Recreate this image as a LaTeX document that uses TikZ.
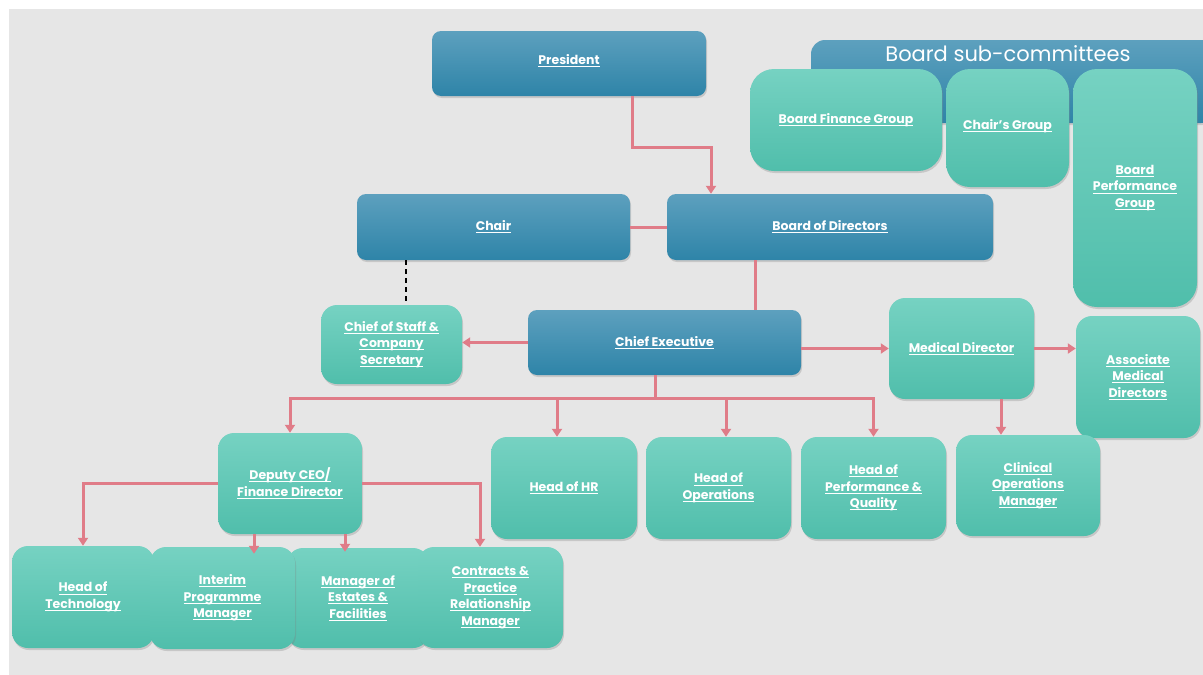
\documentclass[tikz,border=0pt]{standalone}
\usepackage{fontspec}
\setmainfont{Poppins}
\usetikzlibrary{arrows.meta,shadows}
\definecolor{bggray}{HTML}{E6E6E6}
\definecolor{bluetop}{HTML}{5DA0BE}
\definecolor{bluebot}{HTML}{2E84A8}
\definecolor{greentop}{HTML}{76D2C2}
\definecolor{greenbot}{HTML}{50BEAB}
\definecolor{linkcol}{HTML}{E07C88}
\newlength\ulw
\newcommand\myul[1]{\settowidth\ulw{#1}\rlap{\rule[-2.6pt]{\ulw}{1pt}}#1}
\begin{document}
\begin{tikzpicture}[x=1pt,y=-1pt,
  box/.style={rectangle, inner sep=2pt, text=white,
    font=\bfseries\fontsize{12.5}{16.5}\selectfont, align=center,
    drop shadow={shadow xshift=1pt,shadow yshift=-2pt,opacity=0.3}},
  bluebox/.style={box, top color=bluetop, bottom color=bluebot, rounded corners=9pt},
  greenbox/.style={box, top color=greentop, bottom color=greenbot, rounded corners=16pt},
  subbox/.style={greenbox, rounded corners=24pt},
  link/.style={draw=linkcol, line width=3pt},
  arr/.style={link, -{Triangle[width=10pt,length=8pt]}},
  dashlink/.style={draw=black, line width=1.2pt, dash pattern=on 5pt off 4pt},
]
\useasboundingbox (0,0) rectangle (1203,675);
\clip (0,0) rectangle (1203,675);
\fill[white] (0,0) rectangle (1203,675);
\fill[bggray] (9,9) rectangle (1203,675);

% board sub-committees
\node[bluebox, rounded corners=14pt, minimum width=404, minimum height=83] (subc) at (1013,81.5) {};
\node[text=white, font=\fontsize{21}{24}\selectfont] (subctitle) at (1008,54) {Board sub-committees};
\node[subbox, minimum width=192, minimum height=102] (bfg) at (846,120) {\myul{Board Finance Group}};
\node[subbox, minimum width=123, minimum height=118] (cg) at (1007.5,128) {\raisebox{8pt}{\myul{Chair’s Group}}};
\node[subbox, minimum width=124, minimum height=238] (bpg) at (1135,188) {\myul{Board}\\\myul{Performance}\\\myul{Group}};

% blue boxes
\node[bluebox, minimum width=274, minimum height=65] (pres) at (569,63.5) {\raisebox{8pt}{\myul{President}}};
\node[bluebox, minimum width=273, minimum height=66] (chair) at (493.5,227) {\myul{Chair}};
\node[bluebox, minimum width=326, minimum height=66] (bod) at (830,227) {\myul{Board of Directors}};
\node[bluebox, minimum width=273, minimum height=65] (ce) at (664.5,342.5) {\myul{Chief Executive}};

% green boxes
\node[greenbox, minimum width=141, minimum height=79] (cos) at (391.5,344.5) {\myul{Chief of Staff \&}\\\myul{Company}\\\myul{Secretary}};
\node[greenbox, minimum width=145, minimum height=101] (md) at (961.5,348.5) {\myul{Medical Director}};
\node[greenbox, minimum width=124, minimum height=122] (amd) at (1138,377) {\myul{Associate}\\\myul{Medical}\\\myul{Directors}};
\node[greenbox, minimum width=144, minimum height=101] (dep) at (290,483.5) {\myul{Deputy CEO/}\\\myul{Finance Director}};
\node[greenbox, minimum width=146, minimum height=102] (hr) at (564,488) {\myul{Head of HR}};
\node[greenbox, minimum width=145, minimum height=102] (ops) at (718.5,488) {\myul{Head of}\\\myul{Operations}};
\node[greenbox, minimum width=145, minimum height=102] (perf) at (873.5,488) {\myul{Head of}\\\myul{Performance \&}\\\myul{Quality}};
\node[greenbox, minimum width=144, minimum height=101] (com) at (1028,485.5) {\myul{Clinical}\\\myul{Operations}\\\myul{Manager}};
\node[greenbox, minimum width=142, minimum height=102] (hot) at (83,597) {\myul{Head of}\\\myul{Technology}};
\node[greenbox, minimum width=142, minimum height=100] (mef) at (358,598) {\myul{Manager of}\\\myul{Estates \&}\\\myul{Facilities}};
\node[greenbox, minimum width=145, minimum height=102] (ipm) at (222.5,598) {\myul{Interim}\\\myul{Programme}\\\myul{Manager}};
\node[greenbox, minimum width=145, minimum height=101] (cpr) at (490.5,597.5) {\myul{Contracts \&}\\\myul{Practice}\\\myul{Relationship}\\\myul{Manager}};

% connectors
\draw[arr] ([xshift=63pt]pres.south) -- ++(0,51) -| ([xshift=-119pt]bod.north);
\draw[link] (chair.east) -- (bod.west);
\draw[dashlink] ([xshift=-87.5pt]chair.south) -- ([xshift=-87.5pt]chair.south |- cos.north);
\draw[link] ([xshift=-75pt]bod.south) -- ([xshift=-75pt]bod.south |- ce.north);
\draw[arr] (ce.west) -- (ce.west -| cos.east);
\draw[arr] (ce.east |- md.west) -- (md.west);
\draw[arr] (md.east) -- (md.east -| amd.west);
\draw[arr] ([xshift=39.5pt]md.south) -- ([xshift=39.5pt]md.south |- com.north);
\draw[link] ([xshift=-9.5pt]ce.south) -- ++(0,23) coordinate (bus);
\draw[arr] (bus) -| (dep.north);
\draw[arr] (bus) -| (perf.north);
\draw[arr] ([xshift=-7pt]hr.north |- bus) -- ([xshift=-7pt]hr.north);
\draw[arr] ([xshift=7.5pt]ops.north |- bus) -- ([xshift=7.5pt]ops.north);
\draw[arr] (dep.west) -| (hot.north);
\draw[arr] (dep.east) -| ([xshift=-10.5pt]cpr.north);
\draw[arr] ([xshift=-36pt]dep.south) -- ([xshift=-36pt,yshift=-7pt]dep.south |- ipm.north);
\draw[arr] ([xshift=55pt]dep.south) -- ([xshift=55pt,yshift=-4pt]dep.south |- mef.north);
\end{tikzpicture}
\end{document}
